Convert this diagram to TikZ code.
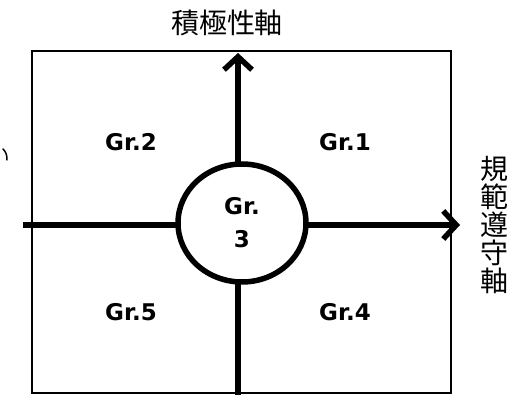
\documentclass[tikz,border=0pt]{standalone}
\usepackage{fontspec}
\setmainfont{DejaVu Sans}
\newfontfamily\jpfont{Noto Sans CJK JP}
\usetikzlibrary{arrows.meta,shapes.geometric}
\begin{document}
\begin{tikzpicture}[x=1pt,y=-1pt,
  axis/.style={line width=5.5pt, -{Straight Barb[length=13pt,width=28pt,line width=5.5pt]}},
  grlabel/.style={font=\fontsize{23}{26}\selectfont\bfseries, inner sep=0pt},
  jplabel/.style={font=\jpfont\fontsize{28}{30}\selectfont, inner sep=0pt}]
\useasboundingbox (0,0) rectangle (515,395);
\node[draw, line width=2pt, minimum width=419pt, minimum height=342pt, inner sep=0pt] (box) at (241.5,222.5) {};
\coordinate (hl) at (23,225);
\coordinate (hr) at (460,225);
\coordinate (vb) at (238,395);
\coordinate (vt) at (238,53);
\draw[axis] (hl) -- (hr);
\draw[axis] (vb) -- (vt);
\node[draw, line width=5.5pt, fill=white, ellipse, minimum width=128pt, minimum height=118pt, inner sep=0pt,
  align=center, font=\fontsize{23}{33}\selectfont\bfseries] (g3) at (242,223) {Gr.\\3};
\node[grlabel] (g2) at (131,142) {Gr.2};
\node[grlabel] (g1) at (345,142) {Gr.1};
\node[grlabel] (g5) at (131,312) {Gr.5};
\node[grlabel] (g4) at (345,312) {Gr.4};
\node[jplabel] (top) at (227,23) {積極性軸};
\node[jplabel, align=center, font=\jpfont\fontsize{28}{28}\selectfont] (right) at (494,225) {規\\範\\遵\\守\\軸};
\draw[line width=1.5pt, line cap=round] (3,149) .. controls (6,152) and (7,155) .. (7,160);
\end{tikzpicture}
\end{document}
